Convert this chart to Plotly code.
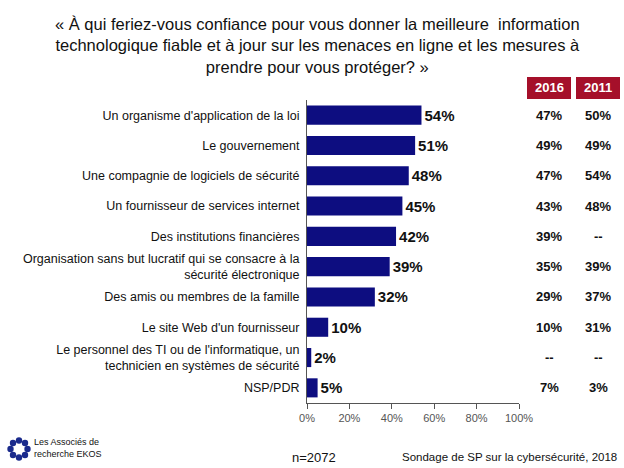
import plotly.graph_objects as go
import math

categories = [
    "Un organisme d'application de la loi",
    "Le gouvernement",
    "Une compagnie de logiciels de sécurité",
    "Un fournisseur de services internet",
    "Des institutions financières",
    "Organisation sans but lucratif qui se consacre à la<br>sécurité électronique",
    "Des amis ou membres de la famille",
    "Le site Web d'un fournisseur",
    "Le personnel des TI ou de l'informatique, un<br>technicien en systèmes de sécurité",
    "NSP/PDR",
]
values_2018 = [54, 51, 48, 45, 42, 39, 32, 10, 2, 5]
values_2016 = ["47%", "49%", "47%", "43%", "39%", "35%", "29%", "10%", "--", "7%"]
values_2011 = ["50%", "49%", "54%", "48%", "--", "39%", "37%", "31%", "--", "3%"]
year_headers = ["2016", "2011"]
tick_vals = [0, 20, 40, 60, 80, 100]
tick_text = ["0%", "20%", "40%", "60%", "80%", "100%"]

FONT = "Arial, Liberation Sans, sans-serif"
W, H = 624, 468
L, R, T, B = 307, 105, 100, 65


def py(ypix):
    return (H - B - ypix) / (H - T - B)


def px(xpix):
    return (xpix - L) / (W - L - R)


fig = go.Figure()
fig.add_trace(go.Bar(
    y=categories, x=values_2018, orientation="h",
    marker=dict(color="#0d0d80", line=dict(width=0)),
    width=0.63,
    text=[f"{v}%" for v in values_2018], textposition="outside",
    textfont=dict(family=FONT, size=15, color="#111111"),
    texttemplate="<b>%{text}</b>",
    cliponaxis=False, hoverinfo="skip",
))

annotations = []
# Title
annotations.append(dict(
    x=px(317), y=py(13), xref="paper", yref="paper", xanchor="center", yanchor="top",
    text="« À qui feriez-vous confiance pour vous donner la meilleure  information<br>"
         "technologique fiable et à jour sur les menaces en ligne et les mesures à<br>"
         "prendre pour vous protéger? »",
    showarrow=False, font=dict(family=FONT, size=16.5, color="#111111"),
))

col_x = [549, 598]
for cx, col in zip(col_x, [values_2016, values_2011]):
    for cat, v in zip(categories, col):
        annotations.append(dict(
            x=px(cx), y=cat, xref="paper", yref="y",
            text=f"<b>{v}</b>", showarrow=False, xanchor="center", yanchor="middle",
            font=dict(family=FONT, size=13, color="#111111"),
        ))

shapes = []
for cx, yr in zip(col_x, year_headers):
    shapes.append(dict(type="rect", xref="paper", yref="paper",
                       x0=px(cx - 22), x1=px(cx + 22),
                       y0=py(99), y1=py(77),
                       fillcolor="#a5102a", line=dict(width=0)))
    annotations.append(dict(x=px(cx), y=py(88), xref="paper", yref="paper",
                            xanchor="center", yanchor="middle",
                            text=f"<b>{yr}</b>", showarrow=False,
                            font=dict(family=FONT, size=13, color="white")))

# Footer
annotations.append(dict(x=px(290), y=py(457), xref="paper", yref="paper",
                        xanchor="left", yanchor="middle",
                        text="n=2072", showarrow=False,
                        font=dict(family=FONT, size=13, color="#111111")))
annotations.append(dict(x=px(619), y=py(457), xref="paper", yref="paper",
                        xanchor="right", yanchor="middle",
                        text="Sondage de SP sur la cybersécurité, 2018", showarrow=False,
                        font=dict(family=FONT, size=11.5, color="#111111")))
annotations.append(dict(x=px(32), y=py(448), xref="paper", yref="paper",
                        xanchor="left", yanchor="middle",
                        text="Les Associés de<br>recherche EKOS", showarrow=False, align="left",
                        font=dict(family=FONT, size=9, color="#111111")))

# Simple logo: ring of small navy circles
lcx, lcy, rr = 19, 449, 8.5
for i in range(8):
    a = 2 * math.pi * i / 8
    x = lcx + rr * math.cos(a)
    y = lcy + rr * math.sin(a)
    shapes.append(dict(type="circle", xref="paper", yref="paper",
                       x0=px(x - 3.2), x1=px(x + 3.2), y0=py(y + 3.2), y1=py(y - 3.2),
                       fillcolor="#1a2a8c", line=dict(width=0)))

fig.update_layout(
    width=W, height=H,
    margin=dict(l=L, r=R, t=T, b=B, autoexpand=False),
    paper_bgcolor="white", plot_bgcolor="white",
    showlegend=False,
    font=dict(family=FONT, color="#111111"),
    xaxis=dict(range=[0, 100], tickvals=tick_vals, ticktext=tick_text,
               showgrid=False, zeroline=False, showline=True, linecolor="#555555",
               ticks="outside", ticklen=5, tickcolor="#555555",
               tickfont=dict(family=FONT, size=11, color="#555555"), fixedrange=True),
    yaxis=dict(autorange="reversed", showgrid=False, showline=True, linecolor="#555555",
               ticks="", tickfont=dict(family=FONT, size=12.5, color="#111111"),
               ticklabelstandoff=4),
    annotations=annotations,
    shapes=shapes,
)

fig.write_html("out.html", config={"displayModeBar": False},
               post_script="document.body.style.margin='0';")
